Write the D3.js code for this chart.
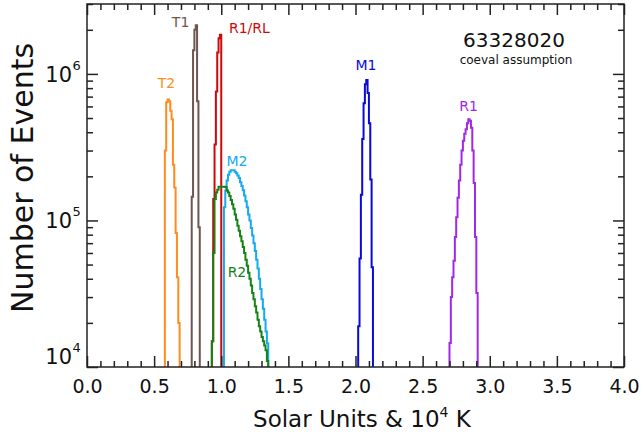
<!DOCTYPE html>
<html><head><meta charset="utf-8">
<script src="https://cdn.jsdelivr.net/npm/d3@7"></script>
<style>
body{margin:0;background:#fff}
svg{display:block}
text{font-family:"DejaVu Sans",Verdana,sans-serif}
</style>
</head><body>
<svg id="chart" width="643" height="434"></svg>
<script>
// ---------- data ----------
const binWidth = 0.01;
const seriesNames = ["T2", "T1", "M2", "R1/RL", "R2", "M1", "R1"];
const seriesColors = ["#ff8c1e", "#6e5550", "#14aaeb", "#cc0a0a", "#168216", "#0a0ad8", "#a028e6"];

const t2Start = 0.58;
const t2Counts = [3.0e5, 6.4e5, 6.7e5, 6.5e5, 5.6e5, 4.9e5, 2.4e5, 1.68e5, 8.2e4, 4.1e4, 2.0e4];

const t1Start = 0.78;
const t1Counts = [1.45e5, 1.45e6, 2.0e6, 2.15e6, 6.5e5, 9.0e4];

const r1rlStart = 0.93;
const r1rlCounts = [1.5e4, 1.4e5, 3.3e5, 7.6e5, 1.4e6, 1.75e6, 1.85e6];

const m2Start = 1.02;
const m2Counts = [1.23e5, 1.6e5, 1.87e5, 2.05e5, 2.15e5, 2.2e5, 2.2e5, 2.2e5, 2.15e5, 2.1e5,
  2.03e5, 1.95e5, 1.82e5, 1.72e5, 1.61e5, 1.48e5, 1.35e5, 1.23e5, 1.1e5, 1.0e5,
  8.9e4, 7.9e4, 7.0e4, 6.2e4, 5.4e4, 4.7e4, 4.0e4, 3.4e4, 2.9e4, 2.5e4,
  2.1e4, 1.75e4, 1.45e4];

const r2Start = 0.93;
const r2Counts = [1.5e4, 6.0e4, 1.4e5, 1.55e5, 1.62e5, 1.7e5, 1.7e5, 1.7e5, 1.7e5, 1.7e5,
  1.69e5, 1.6e5, 1.55e5, 1.47e5, 1.38e5, 1.29e5, 1.2e5, 1.1e5, 1.01e5, 9.2e4,
  8.5e4, 7.8e4, 7.2e4, 6.6e4, 6.0e4, 5.4e4, 4.9e4, 4.4e4, 4.0e4, 3.6e4,
  3.2e4, 2.9e4, 2.6e4, 2.35e4, 2.1e4, 1.9e4, 1.75e4, 1.6e4, 1.5e4, 1.4e4,
  1.3e4, 1.1e4];

const m1Start = 2.02;
const m1Counts = [1.9e4, 5.5e4, 1.5e5, 3.6e5, 6.3e5, 8.5e5, 9.1e5, 7.4e5, 4.6e5, 1.9e5, 4.8e4];

const r1Start = 2.70;
const r1Counts = [1.46e4, 3.0e4, 4.1e4, 5.3e4, 7.7e4, 1.05e5, 1.43e5, 1.87e5, 2.4e5, 3.0e5,
  3.5e5, 3.9e5, 4.2e5, 4.6e5, 4.9e5, 4.8e5, 4.3e5, 3.0e5, 1.8e5, 7.7e4, 3.2e4];

const seriesStarts = [t2Start, t1Start, m2Start, r1rlStart, r2Start, m1Start, r1Start];
const seriesCounts = [t2Counts, t1Counts, m2Counts, r1rlCounts, r2Counts, m1Counts, r1Counts];

const xMajorTicks = [0, 0.5, 1.0, 1.5, 2.0, 2.5, 3.0, 3.5, 4.0];
const yMajorExponents = [4, 5, 6];
const titleText = "63328020";
const subtitleText = "coeval assumption";
const xLabel = "Solar Units & 10";
const xLabelSup = "4";
const xLabelTail = " K";
const yLabel = "Number of Events";

// ---------- layout ----------
const L = 87, R = 624, T = 4, B = 367;
const svg = d3.select("#chart");
const x = d3.scaleLinear().domain([0, 4]).range([L, R]);
const y = d3.scaleLog().domain([1e4, 3e6]).range([B, T]).clamp(true);

// series labels (data coords: x centre, count at text baseline)
const labelPos = {
  "T2": [0.592, 8.0e5],
  "T1": [0.697, 2.1e6],
  "R1/RL": [1.21, 1.9e6],
  "M2": [1.117, 2.36e5],
  "R2": [1.117, 4.1e4],
  "M1": [2.078, 1.06e6],
  "R1": [2.843, 5.6e5]
};

// histograms
const line = d3.line().x(d => x(d[0])).y(d => y(d[1]));
seriesNames.forEach((name, si) => {
  const s = seriesStarts[si], c = seriesCounts[si];
  const pts = [[s, 1e4]];
  c.forEach((v, i) => {
    pts.push([s + i * binWidth, v]);
    pts.push([s + (i + 1) * binWidth, v]);
  });
  pts.push([s + c.length * binWidth, 1e4]);
  svg.append("path").attr("d", line(pts))
    .attr("fill", "none").attr("stroke", seriesColors[si])
    .attr("stroke-width", 2).attr("stroke-linejoin", "miter");
});

// axes
const axisColor = "#222";
const xMinor = d3.range(0, 41).map(i => i / 10).filter(v => !xMajorTicks.some(m => Math.abs(m - v) < 1e-9));
const yMinor = [];
[4, 5, 6].forEach(e => { for (let k = 2; k <= 9; k++) { const v = k * Math.pow(10, e); if (v <= 3e6) yMinor.push(v); } });
const yMajor = yMajorExponents.map(e => Math.pow(10, e));

function styleAxis(g) {
  g.select(".domain").remove();
  g.selectAll("line").attr("stroke", axisColor).attr("stroke-width", 1.5);
}
svg.append("g").attr("transform", `translate(0,${B})`)
  .call(d3.axisBottom(x).tickValues(xMajorTicks).tickSizeInner(-11).tickSizeOuter(0).tickPadding(12.5).tickFormat(d3.format(".1f")))
  .call(styleAxis)
  .call(g => g.selectAll("text").attr("font-size", 19).attr("fill", "#111").attr("font-family", "DejaVu Sans"));
svg.append("g").attr("transform", `translate(0,${B})`)
  .call(d3.axisBottom(x).tickValues(xMinor).tickSizeInner(-6).tickSizeOuter(0).tickFormat(""))
  .call(styleAxis);
svg.append("g").attr("transform", `translate(0,${T})`)
  .call(d3.axisTop(x).tickValues(xMajorTicks).tickSizeInner(-11).tickSizeOuter(0).tickFormat(""))
  .call(styleAxis);
svg.append("g").attr("transform", `translate(0,${T})`)
  .call(d3.axisTop(x).tickValues(xMinor).tickSizeInner(-6).tickSizeOuter(0).tickFormat(""))
  .call(styleAxis);
svg.append("g").attr("transform", `translate(${L},0)`)
  .call(d3.axisLeft(y).tickValues(yMajor).tickSizeInner(-11).tickSizeOuter(0).tickFormat(""))
  .call(styleAxis);
svg.append("g").attr("transform", `translate(${L},0)`)
  .call(d3.axisLeft(y).tickValues(yMinor).tickSizeInner(-6).tickSizeOuter(0).tickFormat(""))
  .call(styleAxis);
svg.append("g").attr("transform", `translate(${R},0)`)
  .call(d3.axisRight(y).tickValues(yMajor).tickSizeInner(-11).tickSizeOuter(0).tickFormat(""))
  .call(styleAxis);
svg.append("g").attr("transform", `translate(${R},0)`)
  .call(d3.axisRight(y).tickValues(yMinor).tickSizeInner(-6).tickSizeOuter(0).tickFormat(""))
  .call(styleAxis);

svg.append("rect").attr("x", L).attr("y", T).attr("width", R - L).attr("height", B - T)
  .attr("fill", "none").attr("stroke", axisColor).attr("stroke-width", 1.5);

// y tick labels with superscripts
yMajorExponents.forEach(e => {
  const ty = y(Math.pow(10, e)) + (e === 4 ? -3 : 8);
  svg.append("text").attr("x", 72).attr("y", ty).attr("text-anchor", "end")
    .attr("font-size", 21).attr("fill", "#111").text("10");
  svg.append("text").attr("x", 72.5).attr("y", ty - 12).attr("font-size", 13).attr("fill", "#111").text(String(e));
});

// axis titles
const xl = svg.append("text").attr("x", 362).attr("y", 427).attr("text-anchor", "middle")
  .attr("font-size", 23).attr("fill", "#111");
xl.append("tspan").text(xLabel);
xl.append("tspan").attr("dy", -10).attr("font-size", 14).text(xLabelSup);
xl.append("tspan").attr("dy", 10).text(xLabelTail);

svg.append("text").attr("transform", "translate(33,178) rotate(-90)")
  .attr("text-anchor", "middle").attr("font-size", 30).attr("fill", "#111").text(yLabel);

// title
svg.append("text").attr("x", 514).attr("y", 47).attr("text-anchor", "middle")
  .attr("font-size", 20).attr("fill", "#111").text(titleText);
svg.append("text").attr("x", 516).attr("y", 64).attr("text-anchor", "middle")
  .attr("font-size", 12).attr("fill", "#111").text(subtitleText);

// series labels
seriesNames.forEach((name, si) => {
  const p = labelPos[name];
  svg.append("text").attr("x", x(p[0])).attr("y", y(p[1])).attr("text-anchor", "middle")
    .attr("font-size", 14).attr("fill", seriesColors[si]).text(name);
});
</script>
</body></html>
